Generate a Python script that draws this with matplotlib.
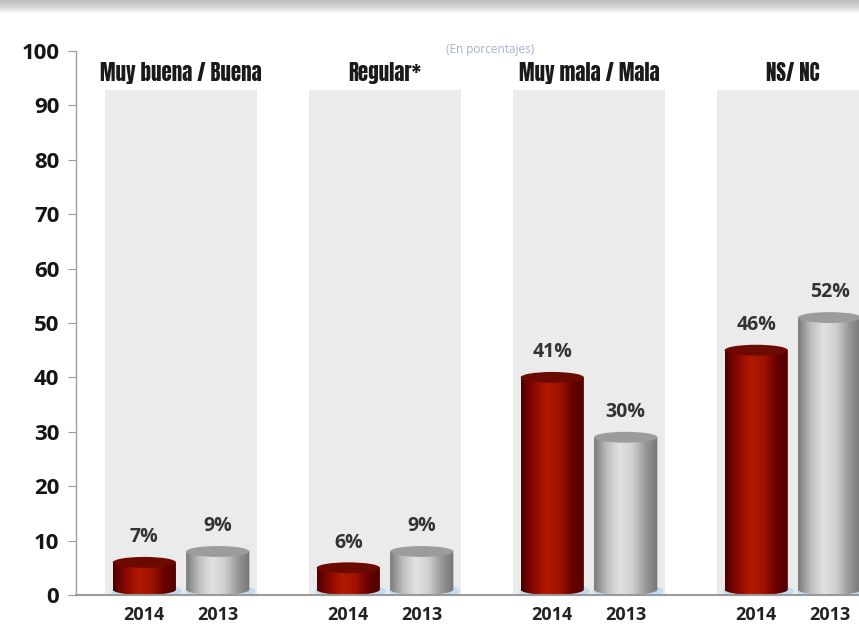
import numpy as np
import matplotlib
matplotlib.use("Agg")
import matplotlib.pyplot as plt
from matplotlib.colors import LinearSegmentedColormap
from matplotlib.patches import Ellipse, Rectangle, PathPatch
from matplotlib.path import Path

categories = ["Muy buena / Buena", "Regular*", "Muy mala / Mala", "NS/ NC"]
years = ["2014", "2013"]
vals_2014 = [7, 6, 41, 46]
vals_2013 = [9, 9, 30, 52]
labels_2014 = ["7%", "6%", "41%", "46%"]
labels_2013 = ["9%", "9%", "30%", "52%"]

red_cmap = LinearSegmentedColormap.from_list(
    "red", ["#4a0000", "#8a0800", "#b21a02", "#a01200", "#6a0200", "#4e0000"])
gray_cmap = LinearSegmentedColormap.from_list(
    "gray", ["#7a7a7a", "#bdbdbd", "#e2e2e2", "#d0d0d0", "#9a9a9a", "#747474"])
top_colors = ["#6c0a02", "#9c9c9c"]
num_font = ["Open Sans", "DejaVu Sans"]

fig = plt.figure(figsize=(8.59, 6.24), dpi=100)
W, H = 859, 624

# grey band at the very top
band = fig.add_axes([0, 1 - 14 / H, 1, 14 / H])
band.imshow(np.linspace(0, 1, 50).reshape(-1, 1), cmap=LinearSegmentedColormap.from_list(
    "band", ["#bdbdbd", "#d6d6d6", "#ffffff"]), aspect="auto", extent=[0, 1, 0, 1])
band.axis("off")

ax = fig.add_axes([76 / W, 29 / H, 1 - 76 / W, 544 / H])
ax.set_xlim(-0.515, 3.324)
ax.set_ylim(0, 100)

spread = 0.18
bw = 0.31
ell_h = 2.0
base = 1.0
panel_w = 0.745
panel_top = 92.8

for i in range(len(categories)):
    ax.add_patch(Rectangle((i - panel_w / 2, 0), panel_w, panel_top,
                           facecolor="#ebebeb", edgecolor="none", zorder=0))
    ax.text(i, 96.0, categories[i], ha="center", va="center", fontsize=15,
            family=["Anton", "DejaVu Sans"], color="#1a1a1a", zorder=5)

grad = np.linspace(0, 1, 256).reshape(1, -1)
t = np.linspace(np.pi, 2 * np.pi, 60)

for j, (vals, labs) in enumerate([(vals_2014, labels_2014), (vals_2013, labels_2013)]):
    cmap = red_cmap if j == 0 else gray_cmap
    for i, v in enumerate(vals):
        xc = i + (-spread if j == 0 else spread)
        x0, x1 = xc - bw / 2, xc + bw / 2
        top = v - ell_h / 2
        # blue glow at the base
        ax.add_patch(Ellipse((xc + 0.012, base - 0.3), bw * 1.12, ell_h * 1.4,
                             facecolor="#c4dbf2", edgecolor="none", zorder=1))
        # body with rounded bottom
        verts = [(xc + bw / 2 * np.cos(a), base + ell_h / 2 * np.sin(a)) for a in t]
        verts += [(x1, top), (x0, top), verts[0]]
        codes = [Path.MOVETO] + [Path.LINETO] * (len(verts) - 2) + [Path.CLOSEPOLY]
        clip = PathPatch(Path(verts, codes), facecolor="none", edgecolor="none",
                         transform=ax.transData)
        ax.add_patch(clip)
        im = ax.imshow(grad, cmap=cmap, aspect="auto", extent=[x0, x1, base - ell_h, top],
                       zorder=2, interpolation="bilinear")
        im.set_clip_path(clip)
        ax.add_patch(Ellipse((xc, top), bw, ell_h, facecolor=top_colors[j],
                             edgecolor="none", zorder=3))
        ax.text(xc, v + 1.8, labs[i], ha="center", va="bottom", fontsize=14,
                fontweight="bold", family=num_font, color="#333333", zorder=5)
        ax.text(xc, -2.0, years[j], ha="center", va="top", fontsize=13,
                fontweight="bold", family=num_font, color="#222222", clip_on=False)

ax.set_yticks(range(0, 101, 10))
ax.set_xticks([])
ax.tick_params(axis="y", length=6, width=0.8, color="#9a9a9a", pad=6,
               labelsize=16)
for lab in ax.get_yticklabels():
    lab.set_fontweight("bold")
    lab.set_family(num_font)
    lab.set_color("#151515")
for s in ["top", "right"]:
    ax.spines[s].set_visible(False)
ax.spines["left"].set_color("#a0a0a0")
ax.spines["left"].set_linewidth(1.0)
ax.spines["bottom"].set_color("#9a9a9a")
ax.spines["bottom"].set_linewidth(1.5)
ax.spines["bottom"].set_zorder(4)
ax.patch.set_visible(False)

fig.text(490 / W, 1 - 50 / H, "(En porcentajes)", ha="center", va="center",
         fontsize=8.5, family=num_font, color="#a9b0c9")

fig.savefig("out.png", dpi=100)
